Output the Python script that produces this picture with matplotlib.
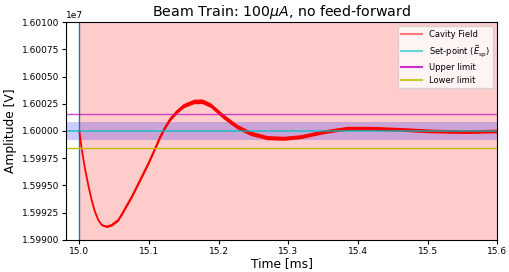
import matplotlib
matplotlib.use("Agg")
import matplotlib.pyplot as plt
from matplotlib.lines import Line2D

# setpoint and limits [V]
E_sp = 1.6e7
band = 800.0
upper_lim = 1.6e7 + 1600.0
lower_lim = 1.6e7 - 1600.0

# cavity field (time in ms, deviation from setpoint in V)
t = [15.000, 15.0032, 15.0079, 15.0127, 15.0176, 15.0223, 15.0271, 15.032,
     15.0392, 15.0464, 15.0559, 15.0617, 15.0752, 15.0872, 15.0991, 15.1088,
     15.116, 15.1222, 15.1303, 15.140, 15.1496, 15.164, 15.1761, 15.188,
     15.2072, 15.2265, 15.2457, 15.2697, 15.2937, 15.3177, 15.3513, 15.385,
     15.4186, 15.457, 15.505, 15.553, 15.600]
dV = [0, -1587, -3422, -4954, -6330, -7403, -8165, -8624,
      -8780, -8624, -8165, -7550, -6027, -4495, -2963, -1587,
      -523, 250, 1100, 1800, 2321, 2706, 2725, 2385,
      1312, 394, -211, -615, -670, -523, -64, 248,
      248, 156, 0, -64, 0]
# ripple amplitude of the field (half thickness of the red band) [V]
ripple = [0, 0, 10, 20, 30, 45, 60, 75,
          90, 100, 110, 115, 130, 140, 150, 155,
          160, 165, 175, 185, 200, 210, 215, 215,
          215, 210, 200, 190, 185, 180, 175, 175,
          175, 175, 170, 170, 170]

field = [E_sp + d for d in dV]
lo = [f - r for f, r in zip(field, ripple)]
hi = [f + r for f, r in zip(field, ripple)]

fig = plt.figure(figsize=(5.1, 2.72), dpi=100)
ax = fig.add_axes([0.129, 0.118, 0.846, 0.801])

ax.axvspan(15.0, 15.6, color='red', alpha=0.2, lw=0)
ax.axhspan(E_sp - band, E_sp + band, color='blue', alpha=0.2, lw=0)
ax.axvline(15.0, color='C0', lw=1)

ax.fill_between(t, lo, hi, color='red', lw=0)
ax.plot(t, field, color='red', lw=1.3)
ax.axhline(E_sp, color='c', lw=1.1, alpha=0.85)
ax.axhline(upper_lim, color='m', lw=1, alpha=0.7)
ax.axhline(lower_lim, color='y', lw=1)

ax.set_xlim(14.9805, 15.6)
ax.set_ylim(1.599e7, 1.601e7)
ax.set_yticks([1.599e7 + 2500 * i for i in range(9)])
ax.ticklabel_format(axis='y', useOffset=False)
ax.tick_params(labelsize=6.5, length=3, pad=2)
ax.yaxis.get_offset_text().set_fontsize(6.5)

ax.set_title(r'Beam Train: 100$\mu A$, no feed-forward', fontsize=10.2, pad=4)
ax.set_xlabel('Time [ms]', fontsize=8.8, labelpad=1)
ax.set_ylabel('Amplitude [V]', fontsize=8.8, labelpad=3)

handles = [Line2D([], [], color='red', alpha=0.5),
           Line2D([], [], color='c', alpha=0.6),
           Line2D([], [], color='m', alpha=0.8),
           Line2D([], [], color='y', alpha=0.8)]
labels = ['Cavity Field', r'Set-point $(\vec{E}_{\rm sp})$', 'Upper limit', 'Lower limit']
ax.legend(handles, labels, loc='upper right', fontsize=6, fancybox=False,
          handlelength=2.5)

fig.savefig('out.png')
